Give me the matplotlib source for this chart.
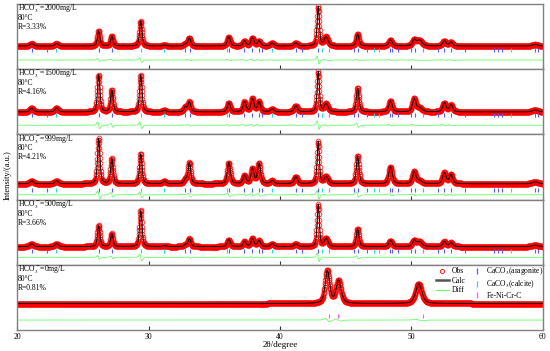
import numpy as np
import matplotlib.pyplot as plt
from matplotlib.lines import Line2D

plt.rcParams['font.family'] = ['Liberation Serif', 'DejaVu Serif']
plt.rcParams['mathtext.fontset'] = 'stix'

two_theta = np.arange(20, 60.001, 0.02)

concentrations = ['2000', '1500', '999', '500', '0']
r_factors = ['3.33', '4.16', '4.21', '3.66', '0.81']

# CaCO3 peaks: positions (deg), FWHM (deg), heights per sample (a.u.)
pos_caco3 = [21.1, 23.0, 26.2, 27.2, 29.4, 31.2, 32.8, 33.1, 36.1, 37.3, 37.9,
             38.4, 39.4, 41.2, 42.9, 43.5, 45.9, 48.4, 50.2, 50.6, 52.5, 53.0, 59.4]
fwhm_caco3 = [0.3, 0.3, 0.22, 0.22, 0.22, 0.3, 0.25, 0.24, 0.27, 0.27, 0.27,
              0.27, 0.3, 0.3, 0.2, 0.35, 0.24, 0.3, 0.3, 0.45, 0.3, 0.3, 0.5]
h_2000 = [2.5, 2.5, 15, 10, 25, 1, 2, 8, 9, 5, 8, 5, 3, 3, 39, 9, 12, 6, 6, 6, 5, 4, 1.5]
h_1500 = [4, 4, 37, 22, 37, 1.5, 5, 10, 9, 10, 13, 10, 3, 6, 40, 8, 24, 11, 13, 4, 9, 7, 2]
h_999 = [3, 3, 45, 25, 30, 2.5, 4, 21, 21, 8, 15, 20, 3, 7, 42, 7, 28, 17, 12, 3, 11, 9, 2]
h_500 = [3, 3, 21, 13, 36, 1, 2, 8, 7, 5, 8, 6, 3, 3, 42, 8, 18, 6, 6, 5, 5, 4, 1.5]

# substrate only (0 mg/L)
pos_fe = [43.6, 44.45, 50.55]
fwhm_fe = [0.4, 0.45, 0.55]
h_0 = [33, 23, 20]

# reflection markers
ticks_aragonite = [21.1, 22.3, 26.2, 27.25, 32.8, 33.15, 36.15, 37.3, 37.9, 38.4,
                   38.6, 41.2, 41.65, 42.9, 45.6, 45.9, 46.6, 48.4, 48.55, 49.0,
                   50.0, 50.25, 52.0, 52.5, 53.0, 54.05, 56.3, 56.6, 56.9, 59.4, 59.6]
ticks_calcite = [23.0, 29.4, 31.2, 36.0, 39.4, 43.2, 47.15, 47.5, 57.55]
ticks_fe = [43.7, 50.9]
ticks_fe_0 = [43.7, 44.4, 50.9]

zero_shift = 0.015

# layout per panel: y limits, marker row, diff offset
ylims = [(-23, 42), (-22.3, 42.7), (-15.7, 49.3), (-18, 47), (-26.7, 39.3)]
tick_rows = [-3.9, -3.5, -5.8, -4.2, -12.5]
diff_rows = [-14, -13.3, -11, -10.7, -16.7]


def profile(x, pos, fwhm, h):
    y = np.zeros_like(x)
    for p, w, a in zip(pos, fwhm, h):
        g = np.exp(-4 * np.log(2) * (x - p) ** 2 / w ** 2)
        l = 1 / (1 + 4 * (x - p) ** 2 / w ** 2)
        y += a * (0.5 * g + 0.5 * l)
    return y


panels = [
    (pos_caco3, fwhm_caco3, h_2000),
    (pos_caco3, fwhm_caco3, h_1500),
    (pos_caco3, fwhm_caco3, h_999),
    (pos_caco3, fwhm_caco3, h_500),
    (pos_fe, fwhm_fe, h_0),
]

c_obs = '#ff0000'
c_diff = '#66ff66'
c_arag = '#5a5aff'
c_calc = '#22dde8'
c_fe = '#ff55ff'
c_frame = '#808080'

fig, axes = plt.subplots(5, 1, figsize=(5.5, 3.51), dpi=100, sharex=True)
fig.subplots_adjust(left=0.031, right=0.987, bottom=0.06, top=0.989, hspace=0)

for i, ax in enumerate(axes):
    pos, fwhm, h = panels[i]
    obs = profile(two_theta, pos, fwhm, h)
    calc = profile(two_theta - zero_shift, pos, fwhm, h)
    ax.plot(two_theta, obs, 'o', ms=3.4, mfc='none', mec=c_obs, mew=0.6, alpha=0.85)
    ax.plot(two_theta, calc, color='black', lw=0.7)
    ax.plot(two_theta, obs - calc + diff_rows[i], color=c_diff, lw=0.6)

    ty = tick_rows[i]
    if i < 4:
        ax.plot(ticks_aragonite, [ty] * len(ticks_aragonite), '|', color=c_arag, ms=3.5, mew=0.8)
        ax.plot(ticks_calcite, [ty] * len(ticks_calcite), '|', color=c_calc, ms=3.5, mew=0.8)
        ax.plot(ticks_fe, [ty] * len(ticks_fe), '|', color=c_fe, ms=3.5, mew=0.8)
    else:
        ax.plot(ticks_fe_0, [ty] * len(ticks_fe_0), '|', color=c_fe, ms=3.5, mew=0.8)

    ax.set_xlim(20, 60)
    ax.set_ylim(*ylims[i])
    ax.set_yticks([])
    for s in ax.spines.values():
        s.set_color(c_frame)
        s.set_linewidth(1)
    ax.tick_params(axis='x', direction='in', length=3, width=0.8, color='#333333',
                   labelsize=5.5, pad=2)

    hgt = 65.0
    ax.text(0.002, 1 - 5.0 / hgt, 'HCO$_3^-$=%smg/L' % concentrations[i],
            transform=ax.transAxes, fontsize=5.5, va='center', ha='left')
    ax.text(0.002, 1 - 14.0 / hgt, '80\u00b0C', transform=ax.transAxes,
            fontsize=5.5, va='center', ha='left')
    ax.text(0.002, 1 - 23.0 / hgt, 'R=%s%%' % r_factors[i], transform=ax.transAxes,
            fontsize=5.5, va='center', ha='left')

axes[-1].set_xticks([20, 30, 40, 50, 60])
axes[-1].set_xlabel('2\u03b8/degree', fontsize=6.5, labelpad=0.5)
fig.text(0.014, 0.5, 'Intensity/(a.u.)', rotation=90, fontsize=6, va='center', ha='center')

handles = [
    Line2D([], [], marker='o', ls='none', mfc='none', mec=c_obs, ms=3, mew=0.6),
    Line2D([], [], color='#555555', lw=1.8),
    Line2D([], [], color=c_diff, lw=0.8),
    Line2D([], [], marker='|', ls='none', color=c_arag, ms=5, mew=0.9),
    Line2D([], [], marker='|', ls='none', color=c_calc, ms=5, mew=0.9),
    Line2D([], [], marker='|', ls='none', color=c_fe, ms=5, mew=0.9),
]
names = ['Obs', 'Calc', 'Diff', 'CaCO$_3$(aragonite)', 'CaCO$_3$(calcite)', 'Fe-Ni-Cr-C']
leg = axes[-1].legend(handles, names, ncol=2, loc='upper right', bbox_to_anchor=(1.012, 1.075),
                      frameon=False, fontsize=5.5, labelspacing=0.2, handlelength=1.7,
                      handletextpad=0.4, columnspacing=0.6, borderpad=0.2)
leg.set_zorder(5)

fig.savefig('out.png', dpi=100)
